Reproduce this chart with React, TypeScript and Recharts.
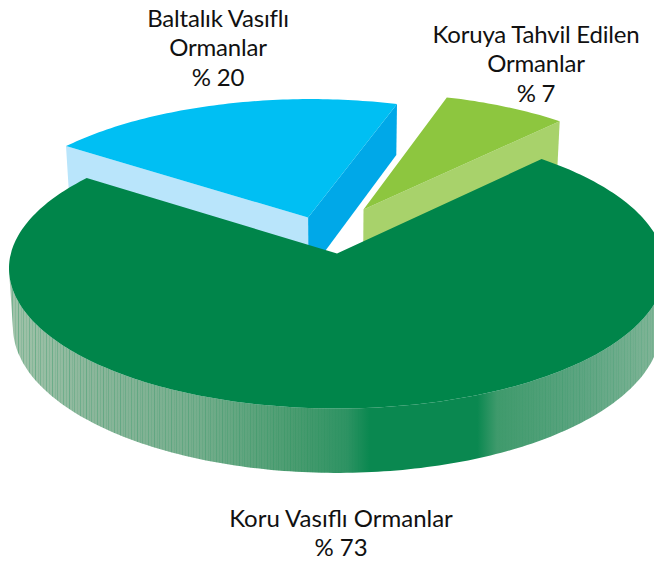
import React from 'react';
import { PieChart, Pie } from 'recharts';

// slice order follows the paint order: the big slice has to end up on top
const categories = ['Koruya Tahvil Edilen Ormanlar', 'Baltalık Vasıflı Ormanlar', 'Koru Vasıflı Ormanlar'];
const shares = [7, 20, 73];

const labelLines = [
  ['Koruya Tahvil Edilen', 'Ormanlar', '% 7'],
  ['Baltalık Vasıflı', 'Ormanlar', '% 20'],
  ['Koru Vasıflı Ormanlar', '% 73'],
];
const labelX = [536, 218, 341];
const labelY = [43, 27, 527];

const topColors = ['#8DC63F', '#00BFF3', '#00854A'];
const startFaceColors = ['#A8D26B', '#00A8E8', null];
const endFaceColors = [null, '#B9E5FB', null];
// how far each slice is pulled out, in units of the pie radius, before projecting
const explodeX = [0.084, -0.091, 0];
const explodeY = [0.329, 0.267, 0];

const WIDTH = 654;
const HEIGHT = 567;
const CX = 337;
const CY = 268.5;
const RX = 328;
const RY = 140;
const TILT = 0.107; // perspective: moves the pie centre up from the ellipse centre
const DEPTH = 57.5;
const BOTTOM_SHRINK = 0.988;

const RAD = Math.PI / 180;

function project(u: number, v: number) {
  const w = 1 + TILT * v;
  return {
    x: CX + (RX * u * Math.sqrt(1 - TILT * TILT)) / w,
    y: CY - (RY * (v + TILT)) / w,
  };
}

function projectBottom(u: number, v: number) {
  const p = project(u, v);
  return {
    x: CX + (p.x - CX) * BOTTOM_SHRINK,
    y: p.y + DEPTH / (1 + TILT * v),
  };
}

type Pt = { x: number; y: number };
const toPath = (pts: Pt[]) => 'M' + pts.map(p => `${p.x.toFixed(1)},${p.y.toFixed(1)}`).join('L') + 'Z';

function SliceShape(props: any) {
  const i = categories.indexOf(props.name ?? props.payload?.name);
  const ox = explodeX[i];
  const oy = explodeY[i];
  const arc: [number, number][] = [];
  const steps = Math.ceil(Math.abs(props.endAngle - props.startAngle));
  for (let s = 0; s <= steps; s++) {
    const a = (props.startAngle + ((props.endAngle - props.startAngle) * s) / steps) * RAD;
    arc.push([ox + Math.cos(a), oy + Math.sin(a)]);
  }
  const first = arc[0];
  const last = arc[arc.length - 1];
  const face = (e: [number, number]) =>
    toPath([project(ox, oy), project(e[0], e[1]), projectBottom(e[0], e[1]), projectBottom(ox, oy)]);
  const top = toPath([project(ox, oy), ...arc.map(e => project(e[0], e[1]))]);
  const startFace = startFaceColors[i];
  const endFace = endFaceColors[i];

  let wall = null;
  if (i === 2) {
    // only the front half of the rim, so the ends close along the silhouette
    const front = arc.filter(e => e[1] <= -TILT);
    const d = toPath([...front.map(e => project(e[0], e[1])), ...front.slice().reverse().map(e => projectBottom(e[0], e[1]))]);
    wall = (
      <>
        <path d={d} fill="url(#wallShade)" />
        <path d={d} fill="url(#wallStripes)" mask="url(#stripeFade)" />
      </>
    );
  }

  return (
    <g>
      {wall}
      {endFace && <path d={face(last)} fill={endFace} />}
      {startFace && <path d={face(first)} fill={startFace} />}
      <path d={top} fill={topColors[i]} />
    </g>
  );
}

export default function App() {
  const data = categories.map((name, i) => ({ name, value: shares[i] }));
  return (
    <div style={{ position: 'absolute', left: 0, top: 0, width: WIDTH, height: HEIGHT, background: '#fff' }}>
      <PieChart width={WIDTH} height={HEIGHT} margin={{ top: 0, right: 0, bottom: 0, left: 0 }}>
        <defs>
          <linearGradient id="wallShade" gradientUnits="userSpaceOnUse" x1="0" y1="0" x2={WIDTH} y2="0">
            <stop offset="0.02" stopColor="#A0C2A9" />
            <stop offset="0.15" stopColor="#8AB69A" />
            <stop offset="0.3" stopColor="#76AE8D" />
            <stop offset="0.45" stopColor="#4A9C70" />
            <stop offset="0.53" stopColor="#2E9363" />
            <stop offset="0.565" stopColor="#0A8850" />
            <stop offset="0.73" stopColor="#0A8850" />
            <stop offset="0.76" stopColor="#3F9A6C" />
            <stop offset="0.9" stopColor="#60A683" />
            <stop offset="1" stopColor="#7FB496" />
          </linearGradient>
          <pattern id="wallStripes" patternUnits="userSpaceOnUse" width="17" height="10">
            <rect x="1" y="0" width="1" height="10" fill="#00854A" opacity="0.3" />
            <rect x="4" y="0" width="1" height="10" fill="#00854A" opacity="0.12" />
            <rect x="6" y="0" width="1" height="10" fill="#00854A" opacity="0.22" />
            <rect x="9" y="0" width="1" height="10" fill="#00854A" opacity="0.1" />
            <rect x="12" y="0" width="1" height="10" fill="#00854A" opacity="0.26" />
            <rect x="15" y="0" width="1" height="10" fill="#00854A" opacity="0.14" />
          </pattern>
          <linearGradient id="stripeGrad" gradientUnits="userSpaceOnUse" x1="0" y1="0" x2={WIDTH} y2="0">
            <stop offset="0" stopColor="#fff" />
            <stop offset="0.45" stopColor="#888" />
            <stop offset="0.55" stopColor="#000" />
            <stop offset="0.76" stopColor="#000" />
            <stop offset="0.85" stopColor="#666" />
            <stop offset="1" stopColor="#666" />
          </linearGradient>
          <mask id="stripeFade" maskUnits="userSpaceOnUse" x="0" y="0" width={WIDTH} height={HEIGHT}>
            <rect x="0" y="0" width={WIDTH} height={HEIGHT} fill="url(#stripeGrad)" />
          </mask>
        </defs>
        <Pie
          data={data}
          dataKey="value"
          nameKey="name"
          cx={CX}
          cy={CY}
          innerRadius={0}
          outerRadius={RX}
          startAngle={47.4}
          endAngle={407.4}
          stroke="none"
          isAnimationActive={false}
          labelLine={false}
          shape={SliceShape}
        />
        {labelLines.map((lines, i) => (
          <text key={i} textAnchor="middle" fontFamily="Lato, sans-serif" fontSize={24} letterSpacing={i === 2 ? 0 : -0.2} fill="#111">
            {lines.map((line, j) => (
              <tspan key={j} x={labelX[i]} y={labelY[i] + j * 29.3}>{line}</tspan>
            ))}
          </text>
        ))}
      </PieChart>
    </div>
  );
}
